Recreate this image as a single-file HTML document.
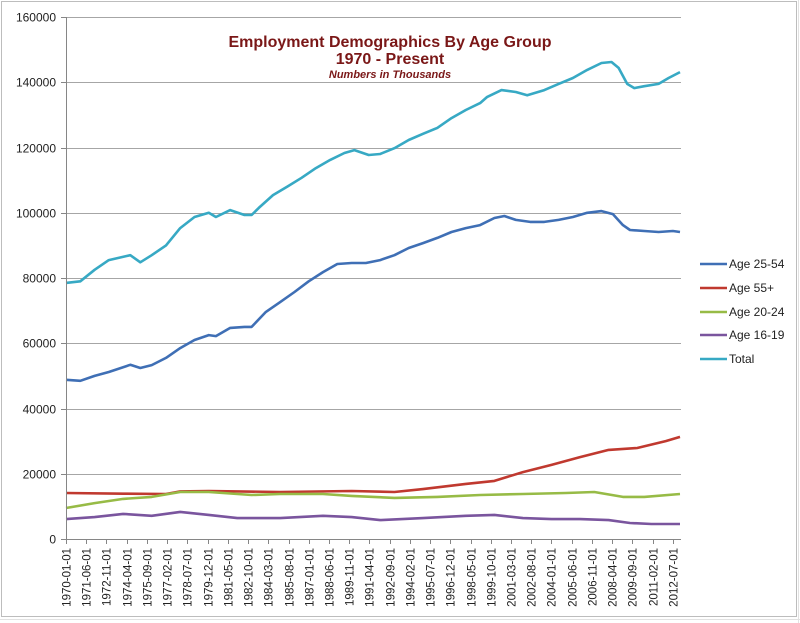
<!DOCTYPE html>
<html><head><meta charset="utf-8"><style>
html,body{margin:0;padding:0;background:#fff;}
svg{display:block;font-family:"Liberation Sans",sans-serif;}
</style></head><body>
<svg id="chart" width="800" height="623" viewBox="0 0 800 623" xmlns="http://www.w3.org/2000/svg">
<rect x="0" y="0" width="800" height="623" fill="#fff"/>
<g stroke="#e2e2e2" stroke-width="1">
<line x1="0" y1="619.5" x2="800" y2="619.5"/>
<line x1="798.5" y1="0" x2="798.5" y2="623"/>
</g>
<rect x="1.5" y="1.5" width="795" height="615" fill="#fff" stroke="#bdbdbd"/>
<g id="grid"></g>
<g id="series"></g>
<g id="axes"></g>
<text x="390" y="47" text-anchor="middle" font-size="16" font-weight="bold" fill="#7a1717">Employment Demographics By Age Group</text>
<text x="390" y="64" text-anchor="middle" font-size="16" font-weight="bold" fill="#7a1717">1970 - Present</text>
<text x="390" y="78" text-anchor="middle" font-size="11" font-weight="bold" font-style="italic" fill="#7a1717">Numbers in Thousands</text>
<g id="legend"></g>
</svg>
<script>
const yTicks = [0,20000,40000,60000,80000,100000,120000,140000,160000];
const xTickLabels = ["1970-01-01","1971-06-01","1972-11-01","1974-04-01","1975-09-01","1977-02-01","1978-07-01","1979-12-01","1981-05-01","1982-10-01","1984-03-01","1985-08-01","1987-01-01","1988-06-01","1989-11-01","1991-04-01","1992-09-01","1994-02-01","1995-07-01","1996-12-01","1998-05-01","1999-10-01","2001-03-01","2002-08-01","2004-01-01","2005-06-01","2006-11-01","2008-04-01","2009-09-01","2011-02-01","2012-07-01"];
const seriesNames = ["Age 25-54","Age 55+","Age 20-24","Age 16-19","Total"];
const seriesColors = ["#3f6fb5","#c0392f","#97bb46","#7a559e","#37a9c4"];
const totalYears = [1970,1971,1972,1973,1974.5,1975.2,1976,1977,1978,1979,1980,1980.5,1981.5,1982.5,1983,1983.5,1984.5,1985.5,1986.5,1987.5,1988.5,1989.5,1990.2,1991.2,1992,1993,1994,1995,1996,1997,1998,1999,1999.5,2000.5,2001.5,2002.3,2003.5,2004.5,2005.5,2006.5,2007.5,2008.2,2008.7,2009.3,2009.8,2010.5,2011.5,2012.2,2013];
const totalValues = [78500,79000,82500,85500,87000,84800,87000,90000,95300,98700,100000,98700,100800,99300,99300,101500,105400,108000,110700,113700,116200,118300,119200,117700,118000,119800,122300,124200,126000,129000,131500,133600,135500,137600,137000,136000,137600,139500,141300,143800,145900,146200,144400,139500,138200,138800,139500,141300,143100];
const primeYears = [1970,1971,1972,1973,1974.5,1975.2,1976,1977,1978,1979,1980,1980.5,1981.5,1982.5,1983,1984,1985,1986,1987,1988,1989,1990,1991,1992,1993,1994,1995,1996,1997,1998,1999,2000,2000.7,2001.5,2002.5,2003.5,2004.5,2005.5,2006.5,2007.5,2008.3,2009,2009.5,2010.5,2011.5,2012.5,2013];
const primeValues = [48800,48500,50000,51200,53400,52400,53300,55500,58500,61000,62500,62200,64700,65000,65000,69600,72600,75700,79000,81800,84300,84600,84600,85500,87000,89200,90700,92300,94100,95300,96200,98400,99000,97800,97200,97200,97800,98700,100000,100500,99600,96200,94700,94400,94100,94400,94100];
const olderYears = [1970,1974,1977,1978,1980,1985,1990,1993,1995,1998,2000,2002,2004,2006,2008,2010,2012,2013];
const olderValues = [14100,13900,13800,14600,14700,14400,14700,14400,15300,16900,17800,20500,22700,25100,27300,27900,30000,31300];
const youngYears = [1970,1972,1974,1976,1978,1980,1983,1985,1988,1990,1993,1996,1999,2002,2005,2007,2009,2010.5,2013];
const youngValues = [9500,11000,12300,12900,14400,14400,13500,13800,13800,13200,12600,12900,13500,13800,14100,14400,12900,12900,13800];
const teenYears = [1970,1972,1974,1976,1978,1980,1982,1985,1988,1990,1992,1995,1998,2000,2002,2004,2006,2008,2009.5,2011,2013];
const teenValues = [6100,6700,7700,7100,8300,7400,6400,6400,7100,6700,5800,6400,7100,7400,6400,6100,6100,5800,4900,4600,4600];

const NS = "http://www.w3.org/2000/svg";
const X0 = 66, X1 = 680, Y0 = 539, Y1 = 17;
const yMax = 160000, yearStart = 1970, yearEnd = 2013;
function xScale(yr){ return X0 + (yr - yearStart) / (yearEnd - yearStart) * (X1 - X0); }
function yScale(v){ return Y0 - v / yMax * (Y0 - Y1); }
function mk(tag, attrs, parent){ const e = document.createElementNS(NS, tag); for (const k in attrs) e.setAttribute(k, attrs[k]); parent.appendChild(e); return e; }

const grid = document.getElementById('grid');
const axes = document.getElementById('axes');
yTicks.forEach(function(v){
  const y = Math.round(yScale(v)) + 0.5;
  if (v > 0) {
    const gl = mk('line', {x1:X0, x2:X1+1, y1:y, y2:y, stroke:'#a6a6a6', 'stroke-width':1}, grid);
    
    
  }
  const tk = mk('line', {x1:X0-5, x2:X0, y1:y, y2:y, stroke:'#868686'}, axes);
  
  
  const t = mk('text', {x:X0-10, y:y+4, 'text-anchor':'end', 'font-size':12, fill:'#222'}, axes);
  t.textContent = String(v);
  
  
});
const ya = mk('line', {x1:X0+0.5, x2:X0+0.5, y1:Y1, y2:Y0, stroke:'#868686'}, axes);


const xa = mk('line', {x1:X0, x2:X1+1, y1:Y0+0.5, y2:Y0+0.5, stroke:'#868686'}, axes);


xTickLabels.forEach(function(lbl){
  const p = lbl.split('-');
  const yr = +p[0] + (+p[1] - 1) / 12;
  const x = Math.round(xScale(yr)) + 0.5;
  const tk = mk('line', {x1:x, x2:x, y1:Y0, y2:Y0+5, stroke:'#868686'}, axes);
  
  
  const t = mk('text', {x:0, y:0, 'text-anchor':'end', 'font-size':11.5, fill:'#222', transform:'translate(' + (x+4) + ',' + (Y0+9) + ') rotate(-90)'}, axes);
  t.textContent = lbl;
  
  
});

const seriesG = document.getElementById('series');
const allYears = [primeYears, olderYears, youngYears, teenYears, totalYears];
const allValues = [primeValues, olderValues, youngValues, teenValues, totalValues];
const slugs = ['age-25-54','age-55-plus','age-20-24','age-16-19','total'];
allYears.forEach(function(ys, i){
  const pts = ys.map(function(yr, j){ return xScale(yr).toFixed(1) + ',' + yScale(allValues[i][j]).toFixed(1); }).join(' ');
  const pl = mk('polyline', {points:pts, fill:'none', stroke:seriesColors[i], 'stroke-width':2.6, 'stroke-linejoin':'round'}, seriesG);
  
  
});

const legend = document.getElementById('legend');
const legendY = [264, 288, 312, 335, 359];
seriesNames.forEach(function(n, i){
  const y = legendY[i];
  const ln = mk('line', {x1:700, x2:727, y1:y, y2:y, stroke:seriesColors[i], 'stroke-width':2.6}, legend);
  
  
  const t = mk('text', {x:729, y:y+4, 'font-size':12, fill:'#222'}, legend);
  t.textContent = n;
  
  
});
</script>
</body></html>
